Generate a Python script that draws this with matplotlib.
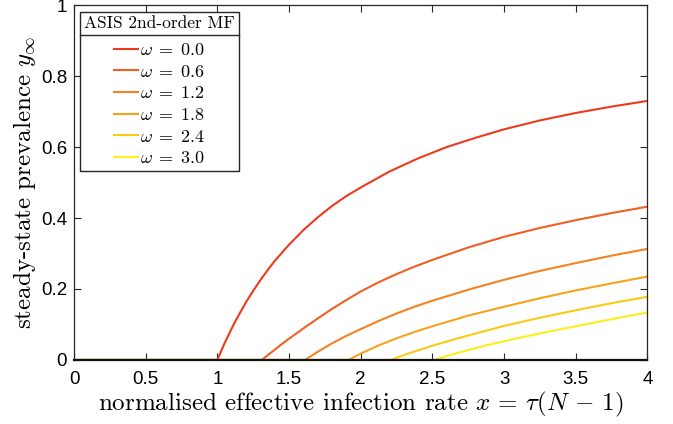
import matplotlib
matplotlib.use("Agg")
import matplotlib.pyplot as plt
from matplotlib.lines import Line2D

plt.rcParams['mathtext.fontset'] = 'cm'

omegas = ["0.0", "0.6", "1.2", "1.8", "2.4", "3.0"]
colors = ["#ec3b1c", "#f15f22", "#f58220", "#f7a41c", "#fbcb12", "#fbf01a"]

x_w00 = [0, 1.0, 1.025, 1.05, 1.075, 1.1, 1.125, 1.15, 1.2, 1.25, 1.3, 1.35, 1.4, 1.5, 1.6, 1.7,
         1.8, 1.9, 2.0, 2.2, 2.4, 2.6, 2.8, 3.0, 3.25, 3.5, 3.75, 4.0]
y_w00 = [0, 0, 0.024, 0.047, 0.068, 0.089, 0.109, 0.127, 0.163, 0.195, 0.225, 0.253, 0.279, 0.325, 0.366, 0.402,
         0.434, 0.462, 0.486, 0.531, 0.568, 0.600, 0.626, 0.650, 0.675, 0.696, 0.714, 0.730]

x_w06 = [0, 1.31, 1.35, 1.4, 1.45, 1.5, 1.6, 1.7, 1.8, 1.9, 2.0, 2.125, 2.25, 2.375, 2.5, 2.75, 3.0, 3.25, 3.5, 3.75, 4.0]
y_w06 = [0, 0, 0.013, 0.029, 0.045, 0.060, 0.089, 0.117, 0.144, 0.169, 0.193, 0.219, 0.242, 0.263, 0.282, 0.317, 0.347, 0.372, 0.394, 0.414, 0.432]

x_w12 = [0, 1.61, 1.7, 1.8, 1.9, 2.0, 2.125, 2.25, 2.375, 2.5, 2.75, 3.0, 3.25, 3.5, 3.75, 4.0]
y_w12 = [0, 0, 0.023, 0.047, 0.068, 0.087, 0.110, 0.131, 0.150, 0.167, 0.198, 0.226, 0.251, 0.273, 0.294, 0.313]

x_w18 = [0, 1.914, 2.0, 2.125, 2.25, 2.375, 2.5, 2.75, 3.0, 3.25, 3.5, 3.75, 4.0]
y_w18 = [0, 0, 0.018, 0.041, 0.061, 0.079, 0.095, 0.125, 0.150, 0.174, 0.196, 0.216, 0.235]

x_w24 = [0, 2.21, 2.3, 2.4, 2.5, 2.625, 2.75, 3.0, 3.25, 3.5, 3.75, 4.0]
y_w24 = [0, 0, 0.014, 0.027, 0.040, 0.055, 0.069, 0.096, 0.119, 0.140, 0.160, 0.178]

x_w30 = [0, 2.507, 2.625, 2.75, 2.875, 3.0, 3.25, 3.5, 3.75, 4.0]
y_w30 = [0, 0, 0.014, 0.028, 0.041, 0.053, 0.075, 0.095, 0.115, 0.134]

series = [(x_w00, y_w00), (x_w06, y_w06), (x_w12, y_w12),
          (x_w18, y_w18), (x_w24, y_w24), (x_w30, y_w30)]

xticks = [0, 0.5, 1, 1.5, 2, 2.5, 3, 3.5, 4]
xticklabels = ["0", "0.5", "1", "1.5", "2", "2.5", "3", "3.5", "4"]
yticks = [0, 0.2, 0.4, 0.6, 0.8, 1]
yticklabels = ["0", "0.2", "0.4", "0.6", "0.8", "1"]

fig = plt.figure(figsize=(6.73, 4.24), dpi=100)
ax = fig.add_axes([0.110, 0.151, 0.852, 0.837])

for (xs, ys), om, c in zip(series, omegas, colors):
    ax.plot(xs, ys, color=c, lw=1.5, label=r"$\omega \;=\; %s$" % om, zorder=2,
            solid_joinstyle="round")

ax.set_xlim(0, 4)
ax.set_ylim(0, 1)
ax.set_xticks(xticks)
ax.set_xticklabels(xticklabels, family="Liberation Sans", fontsize=13.5)
ax.set_yticks(yticks)
ax.set_yticklabels(yticklabels, family="Liberation Sans", fontsize=13.5)
ax.tick_params(direction="in", top=True, right=True, length=5, width=0.8, color="#262626")
ax.tick_params(axis="x", pad=8)
ax.tick_params(axis="y", pad=5)
for s in ax.spines.values():
    s.set_color("#262626")
    s.set_linewidth(0.9)
    s.set_zorder(3)
ax.spines['bottom'].set_linewidth(1.6)
ax.spines['bottom'].set_color("#111111")

ax.set_xlabel(r"normalised effective infection rate $x \,=\, \tau(N \,-\, 1)$", family="cmr10",
              fontsize=18, labelpad=1)
ax.set_ylabel(r"steady-state prevalence $y_\infty$", family="cmr10", fontsize=18, labelpad=2)

leg = ax.legend(loc="upper left", bbox_to_anchor=(0.0105, 0.98), borderaxespad=0,
                title="ASIS 2nd-order MF", fancybox=False, framealpha=1,
                edgecolor="#262626", fontsize=13, handlelength=1.33, handletextpad=0.12,
                labelspacing=0.2, borderpad=0.22)
leg.get_title().set_family("cmr10")
leg.get_title().set_fontsize(12.5)
leg.get_frame().set_linewidth(1.0)
leg._legend_box.align = "center"
leg._legend_box.sep = 7

fig.canvas.draw()
r = fig.canvas.get_renderer()
lb = leg.get_window_extent(r)
tb = leg.get_title().get_window_extent(r)
ysep = tb.y0 - 4
fig.add_artist(Line2D([lb.x0 / fig.bbox.width, lb.x1 / fig.bbox.width],
                      [ysep / fig.bbox.height, ysep / fig.bbox.height],
                      color="#262626", lw=1.0, transform=fig.transFigure))

fig.savefig("out.png", dpi=100)
